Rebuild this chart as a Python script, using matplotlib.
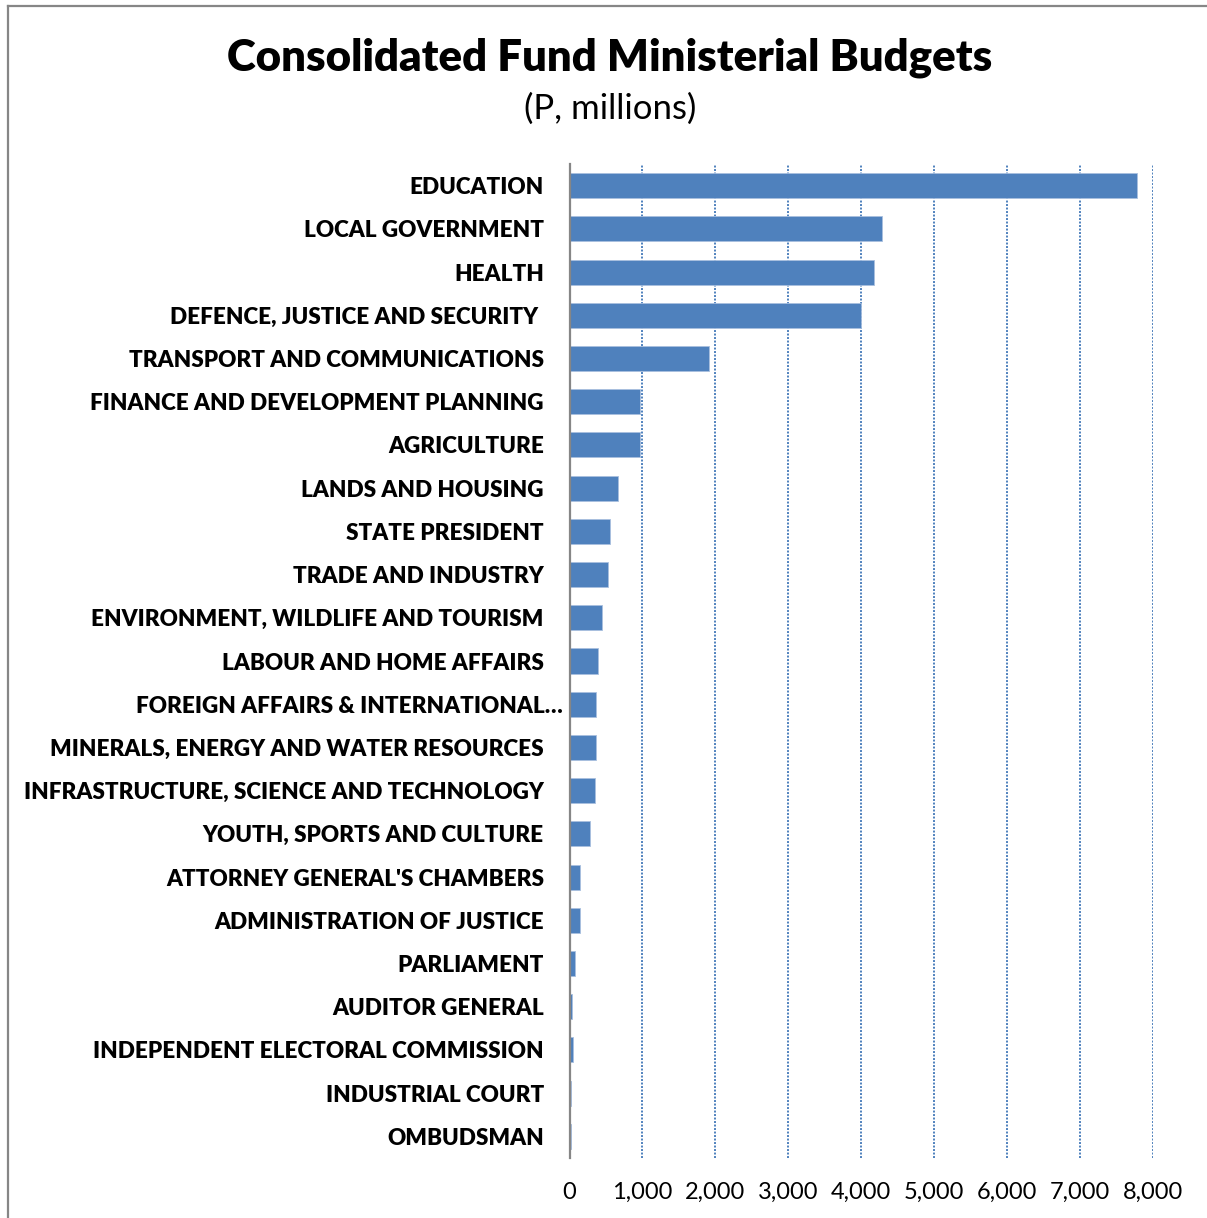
import matplotlib
matplotlib.use("Agg")
import matplotlib.pyplot as plt
from matplotlib.lines import Line2D
from matplotlib.ticker import FuncFormatter
from matplotlib.transforms import ScaledTranslation

# Ministry budgets, P millions (top to bottom)
ministries = [
    "EDUCATION",
    "LOCAL GOVERNMENT",
    "HEALTH",
    "DEFENCE, JUSTICE AND SECURITY ",
    "TRANSPORT AND COMMUNICATIONS",
    "FINANCE AND DEVELOPMENT PLANNING",
    "AGRICULTURE",
    "LANDS AND HOUSING",
    "STATE PRESIDENT",
    "TRADE AND INDUSTRY",
    "ENVIRONMENT, WILDLIFE AND TOURISM",
    "LABOUR AND HOME AFFAIRS",
    "FOREIGN AFFAIRS & INTERNATIONAL\u2026",
    "MINERALS, ENERGY AND WATER RESOURCES",
    "INFRASTRUCTURE, SCIENCE AND TECHNOLOGY",
    "YOUTH, SPORTS AND CULTURE",
    "ATTORNEY GENERAL'S CHAMBERS",
    "ADMINISTRATION OF JUSTICE",
    "PARLIAMENT",
    "AUDITOR GENERAL",
    "INDEPENDENT ELECTORAL COMMISSION",
    "INDUSTRIAL COURT",
    "OMBUDSMAN",
]
budgets = [
    7780, 4280, 4170, 4000, 1915, 970, 960, 660, 550, 530, 450, 395,
    370, 360, 350, 280, 140, 140, 80, 40, 43, 25, 16,
]
x_ticks = [0, 1000, 2000, 3000, 4000, 5000, 6000, 7000, 8000]

title = "Consolidated Fund Ministerial Budgets"
subtitle = "(P, millions)"

BAR = "#4F81BD"
FONT = "Lato"

W, H = 1207, 1218
fig = plt.figure(figsize=(W / 100, H / 100), dpi=100)
fig.patch.set_facecolor("white")

ax = fig.add_axes([569.5 / W, 1 - 1158 / H, (1153 - 569.5) / W, (1158 - 164) / H])

ypos = list(range(len(ministries)))
ax.barh(ypos, budgets, height=0.58, color=BAR, edgecolor="#A9C0DF",
        linewidth=0.6, zorder=3)

ax.set_xlim(x_ticks[0], x_ticks[-1])
ax.set_ylim(len(ministries) - 0.5, -0.5)
ax.set_xticks(x_ticks)
ax.xaxis.set_major_formatter(FuncFormatter(lambda v, p: f"{int(v):,}"))
ax.set_yticks(ypos)
ax.set_yticklabels(ministries)

for s in ("top", "right", "bottom"):
    ax.spines[s].set_visible(False)
ax.spines["left"].set_color("#868686")
ax.spines["left"].set_linewidth(1.6)
ax.spines["left"].set_zorder(4)

ax.grid(axis="x", color=BAR, linestyle=(0, (1, 0.8)), linewidth=1.4, zorder=0)
ax.grid(axis="y", visible=False)
ax.set_axisbelow(True)

ax.tick_params(axis="y", length=0, pad=18.5)
ax.tick_params(axis="x", length=0, pad=17.5)
for lab in ax.get_yticklabels():
    lab.set_fontfamily(FONT)
    lab.set_fontweight("heavy")
    lab.set_fontsize(16.2)
    lab.set_color("black")
for lab in ax.get_xticklabels():
    lab.set_fontfamily(FONT)
    lab.set_fontsize(17)
    lab.set_color("black")

# the truncated foreign affairs label overhangs toward the axis
fa = ax.get_yticklabels()[12]
fa.set_transform(fa.get_transform() + ScaledTranslation(19 / 100, 0, fig.dpi_scale_trans))

fig.text(610 / W, 1 - 58 / H, title, ha="center", va="center",
         fontsize=31.5, fontweight="heavy", fontfamily=FONT)
fig.text(610 / W, 1 - 109 / H, subtitle, ha="center", va="center",
         fontsize=25, fontfamily=FONT)

# chart frame (left and top edges)
fig.add_artist(Line2D([8 / W, 8 / W], [0, 1 - 6 / H], transform=fig.transFigure,
                      color="#868686", linewidth=1.6))
fig.add_artist(Line2D([8 / W, 1], [1 - 6 / H, 1 - 6 / H], transform=fig.transFigure,
                      color="#868686", linewidth=1.6))

fig.savefig("out.png", dpi=100, facecolor="white")
